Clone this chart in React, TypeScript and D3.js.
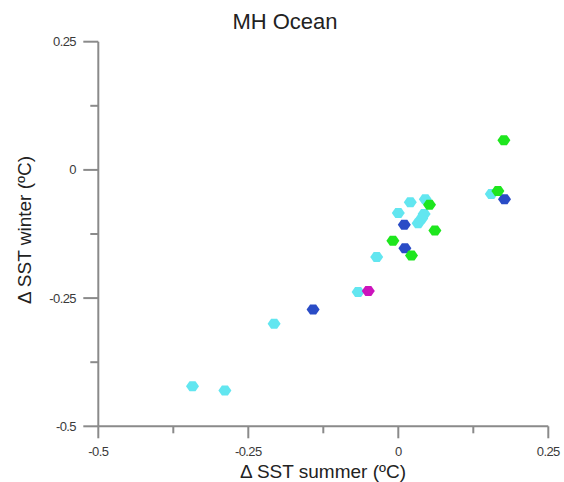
import React from "react";
import * as d3 from "d3";

const W = 564;
const H = 482;

const xTicks = [-0.5, -0.25, 0, 0.25];
const yTicks = [0.25, 0, -0.25, -0.5];
const xMinor = [-0.375, -0.125, 0.125];
const yMinor = [0.125, -0.125, -0.375];

const cyanX = [-0.343, -0.289, -0.207, -0.067, -0.036, 0.0, 0.02, 0.045, 0.043, 0.039, 0.033, 0.155];
const cyanY = [-0.422, -0.43, -0.3, -0.238, -0.17, -0.084, -0.063, -0.057, -0.086, -0.095, -0.104, -0.047];

const greenX = [0.176, 0.166, 0.052, 0.061, -0.009, 0.022];
const greenY = [0.058, -0.041, -0.068, -0.118, -0.138, -0.167];

const blueX = [0.177, 0.01, 0.011, -0.142];
const blueY = [-0.057, -0.107, -0.153, -0.272];

const magentaX = [-0.05];
const magentaY = [-0.236];

const series = [
  { name: "cyan", color: "#62e6f0", xs: cyanX, ys: cyanY },
  { name: "blue", color: "#2a4cc6", xs: blueX, ys: blueY },
  { name: "green", color: "#1ee61e", xs: greenX, ys: greenY },
  { name: "magenta", color: "#cc14bc", xs: magentaX, ys: magentaY },
];

const fmt = (v: number) => (v === 0 ? "0" : String(v));

export default function App() {
  const x = d3.scaleLinear().domain([-0.5, 0.25]).range([98.3, 548.3]);
  const y = d3.scaleLinear().domain([-0.5, 0.25]).range([426.3, 41.7]);
  const axisColor = "#8a8a8a";
  const textColor = "#3a3a3a";
  const marker = "M -6.5 0 L -3 -5 L 3 -5 L 6.5 0 L 3 5 L -3 5 Z";
  const x0 = x(-0.5);
  const y0 = y(-0.5);

  return (
    <svg width={W} height={H} style={{ position: "absolute", left: 0, top: 0, background: "#fff" }}
      fontFamily="'Liberation Sans', Arial, Helvetica, sans-serif">
      <text x={285} y={29} textAnchor="middle" fontSize={22} fill="#222">MH Ocean</text>

      {/* y axis */}
      <line x1={x0} x2={x0} y1={y(0.25)} y2={y0} stroke={axisColor} strokeWidth={2} />
      {yTicks.map((t) => (
        <g key={"yt" + t}>
          <line x1={x0 - 15} x2={x0} y1={y(t)} y2={y(t)} stroke={axisColor} strokeWidth={2} />
          <text x={76} y={y(t)} dy="0.35em" textAnchor="end" fontSize={13} fill={textColor} letterSpacing={-0.6}>{fmt(t)}</text>
        </g>
      ))}
      {yMinor.map((t) => (
        <line key={"ym" + t} x1={x0 - 8} x2={x0} y1={y(t)} y2={y(t)} stroke={axisColor} strokeWidth={2} />
      ))}

      {/* x axis */}
      <line x1={x0} x2={x(0.25)} y1={y0} y2={y0} stroke={axisColor} strokeWidth={2} />
      {xTicks.map((t) => (
        <g key={"xt" + t}>
          <line x1={x(t)} x2={x(t)} y1={y0} y2={y0 + 12} stroke={axisColor} strokeWidth={2} />
          <text x={x(t)} y={456} textAnchor="middle" fontSize={13} fill={textColor} letterSpacing={-0.6}>{fmt(t)}</text>
        </g>
      ))}
      {xMinor.map((t) => (
        <line key={"xm" + t} x1={x(t)} x2={x(t)} y1={y0} y2={y0 + 7} stroke={axisColor} strokeWidth={2} />
      ))}

      <text x={323} y={478} textAnchor="middle" fontSize={19} fill="#222">Δ SST summer (ºC)</text>
      <text transform={`translate(31,230) rotate(-90)`} textAnchor="middle" fontSize={19} fill="#222">Δ SST winter (ºC)</text>

      {series.map((s) =>
        s.xs.map((v, i) => (
          <path key={s.name + i} d={marker} transform={`translate(${x(v)},${y(s.ys[i])})`} fill={s.color} />
        ))
      )}
    </svg>
  );
}
